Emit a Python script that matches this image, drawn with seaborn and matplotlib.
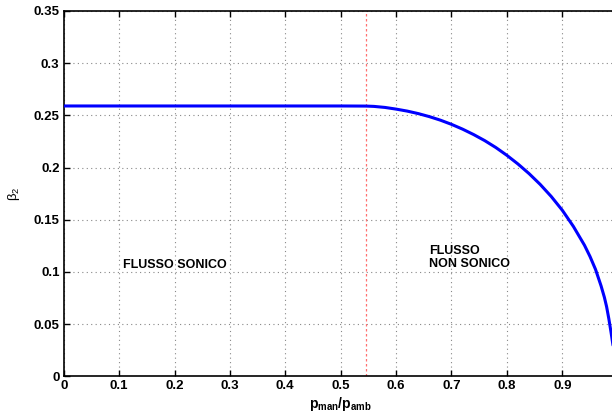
import matplotlib
matplotlib.use("Agg")
import matplotlib.pyplot as plt
import seaborn as sns
import pandas as pd

# data
p_ratio = [0.0, 0.1, 0.2, 0.3, 0.4, 0.5, 0.546, 0.56, 0.58, 0.60, 0.62, 0.64, 0.66,
           0.68, 0.70, 0.72, 0.74, 0.76, 0.78, 0.80, 0.82, 0.84, 0.86, 0.88, 0.90,
           0.92, 0.94, 0.95, 0.96, 0.97, 0.976, 0.98, 0.984, 0.988, 0.994, 1.0]
beta2 = [0.259, 0.259, 0.259, 0.259, 0.259, 0.259, 0.2589, 0.2586, 0.2576, 0.2560,
         0.2541, 0.2517, 0.2488, 0.2454, 0.2414, 0.2368, 0.2316, 0.2258, 0.2192,
         0.2117, 0.2034, 0.1942, 0.1839, 0.1723, 0.1591, 0.1436, 0.1256, 0.1148,
         0.1024, 0.0866, 0.0756, 0.0666, 0.0551, 0.0421, 0.0210, 0.0]
critical_ratio = 0.546
xticks = [0, 0.1, 0.2, 0.3, 0.4, 0.5, 0.6, 0.7, 0.8, 0.9]
xticklabels = ["0", "0.1", "0.2", "0.3", "0.4", "0.5", "0.6", "0.7", "0.8", "0.9"]
yticks = [0, 0.05, 0.1, 0.15, 0.2, 0.25, 0.3, 0.35]
yticklabels = ["0", "0.05", "0.1", "0.15", "0.2", "0.25", "0.3", "0.35"]
label_sonic = "FLUSSO SONICO"
label_nonsonic = "FLUSSO\nNON SONICO"

sns.set_style("white")
plt.rcParams["font.family"] = ["Liberation Sans", "DejaVu Sans"]
plt.rcParams["mathtext.fontset"] = "custom"
plt.rcParams["mathtext.rm"] = "Liberation Sans"
plt.rcParams["mathtext.it"] = "Liberation Sans:italic"
plt.rcParams["mathtext.bf"] = "Liberation Sans:bold"
plt.rcParams["text.color"] = "black"
plt.rcParams["axes.labelcolor"] = "black"
plt.rcParams["xtick.color"] = "black"
plt.rcParams["ytick.color"] = "black"

df = pd.DataFrame({"x": p_ratio, "y": beta2})

fig = plt.figure(figsize=(6.12, 4.16), dpi=100)
ax = fig.add_axes([63.7 / 612, 39.7 / 416, 554 / 612, 365.3 / 416])

ax.set_xlim(0, 1)
ax.set_ylim(0, 0.35)
ax.grid(True, linestyle=(0, (1, 3)), color="#888888", linewidth=0.8)
ax.set_axisbelow(True)

ax.axvline(critical_ratio, color="#ff7070", linestyle=(0, (2, 2)), linewidth=0.9, zorder=2)
sns.lineplot(data=df, x="x", y="y", ax=ax, color="#0000ff", linewidth=2.2, zorder=3)

ax.set_xticks(xticks)
ax.set_xticklabels(xticklabels, fontweight="bold", fontsize=9.5)
ax.set_yticks(yticks)
ax.set_yticklabels(yticklabels, fontweight="bold", fontsize=9.5)
ax.tick_params(direction="in", length=4, width=1, top=True, right=True,
               bottom=True, left=True, pad=3, colors="black")

for s in ax.spines.values():
    s.set_visible(True)
    s.set_color("black")
    s.set_linewidth(1.2)

ax.set_xlabel(r"$\mathbf{p_{man}/p_{amb}}$", fontsize=10, labelpad=2, color="black")
ax.set_ylabel(r"$\mathrm{\beta_2}$", fontsize=9.5, labelpad=8, color="black")

ax.text(0.107, 0.107, label_sonic, fontsize=9, fontweight="bold", va="center", ha="left",
        color="black")
ax.text(0.66, 0.114, label_nonsonic, fontsize=9, fontweight="bold", va="center", ha="left",
        linespacing=1.15, color="black")

fig.savefig("out.png", dpi=100)
